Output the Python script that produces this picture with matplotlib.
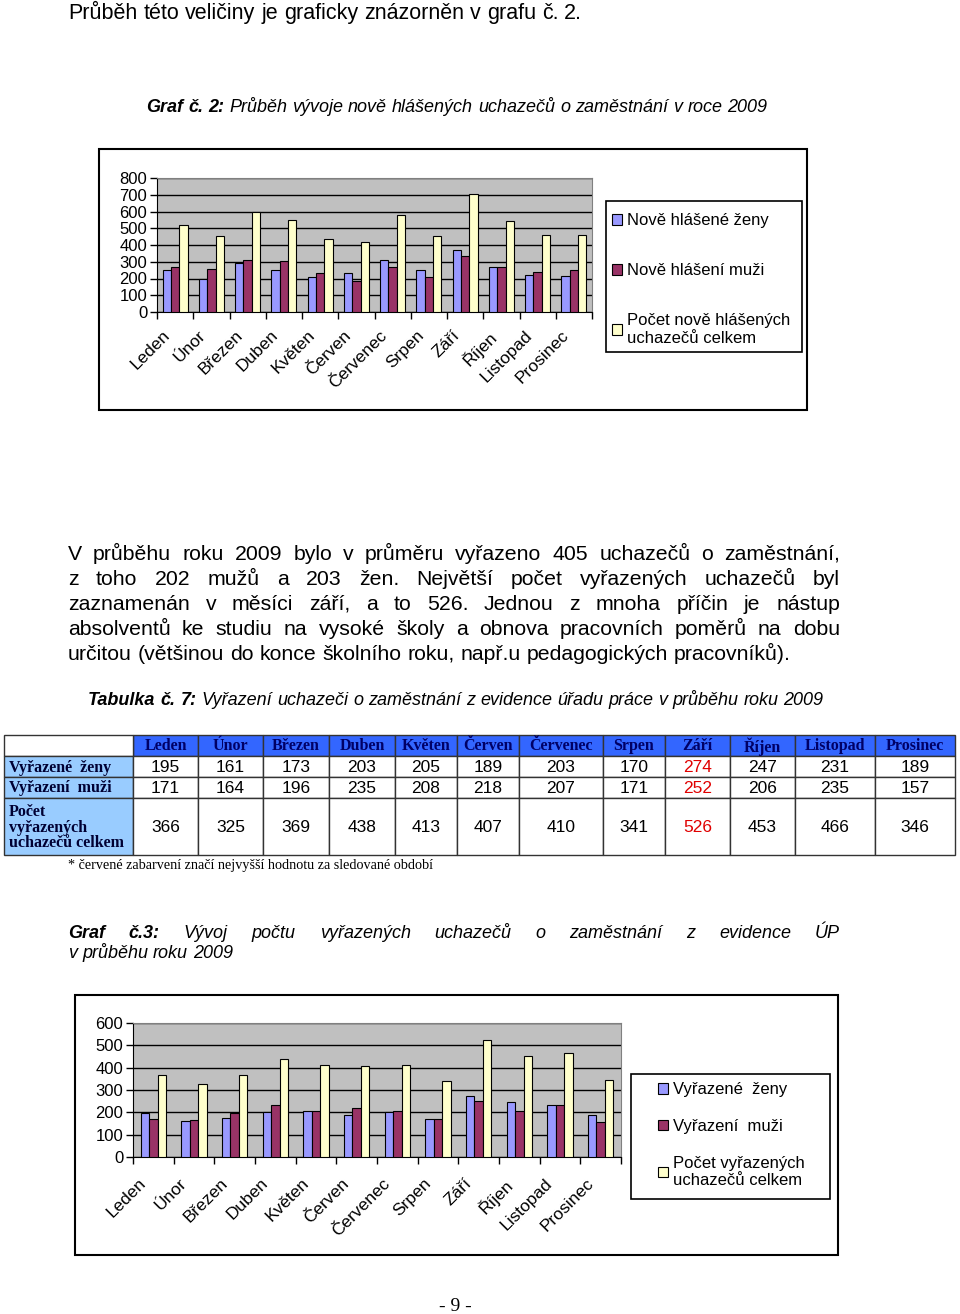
import numpy as np
import matplotlib
matplotlib.use("Agg")
import matplotlib.pyplot as plt
import matplotlib.transforms as mtrans
from matplotlib.patches import Rectangle, Patch

plt.rcParams['font.family'] = ['Liberation Sans', 'DejaVu Sans']

mesice = ["Leden", "Únor", "Březen", "Duben", "Květen", "Červen",
          "Červenec", "Srpen", "Září", "Říjen", "Listopad", "Prosinec"]

# graf c. 2 - hodnoty odhadnute z obrazku
nove_zeny = [248, 198, 291, 248, 208, 230, 311, 248, 368, 271, 222, 216]
nove_muzi = [271, 255, 311, 303, 232, 188, 271, 206, 335, 271, 240, 248]
nove_celkem = [517, 453, 600, 550, 438, 420, 582, 453, 703, 543, 461, 461]

# tabulka c. 7 / graf c. 3
vyr_zeny = [195, 161, 173, 203, 205, 189, 203, 170, 274, 247, 231, 189]
vyr_muzi = [171, 164, 196, 235, 208, 218, 207, 171, 252, 206, 235, 157]
vyr_celkem = [366, 325, 369, 438, 413, 407, 410, 341, 526, 453, 466, 346]

radky_tab = ["Vyřazené  ženy", "Vyřazení  muži", "Počet\nvyřazených\nuchazečů celkem"]

barvy = ['#9999FF', '#993366', '#FFFFCC']
W, H = 960, 1314

fig = plt.figure(figsize=(W / 100, H / 100), dpi=100)
fig.patch.set_facecolor('white')

# podkladova osa v pixelech
ov = fig.add_axes([0, 0, 1, 1], zorder=0)
ov.set_xlim(0, W)
ov.set_ylim(H, 0)
ov.axis('off')

rend = fig.canvas.get_renderer()

sans = ['Liberation Sans', 'DejaVu Sans']
narrow = ['Liberation Sans Narrow', 'Liberation Sans', 'DejaVu Sans']
serif = ['Liberation Serif', 'DejaVu Serif']


def radek(slova, x0, y, x1=None, size=14):
    # slova: seznam (text, vlastnosti); x1 -> zarovnani do bloku
    ts = []
    for s, p in slova:
        t = ov.text(0, y, s, va='baseline', fontsize=size, **p)
        ts.append(t)
    w = [t.get_window_extent(rend).width for t in ts]
    if x1 is None or len(ts) < 2:
        mezera = size * 0.278 * 100 / 72
    else:
        mezera = (x1 - x0 - sum(w)) / (len(ts) - 1)
    x = x0
    for t, wi in zip(ts, w):
        t.set_x(x)
        x += wi + mezera


def prosty(text, x0, y, x1=None, size=14, **p):
    radek([(s, p) for s in text.split()], x0, y, x1, size)


prosty("Průběh této veličiny je graficky znázorněn v grafu č. 2.", 68, 19,
       size=15.5, family=sans)

bi = dict(family=narrow, style='italic', weight='bold')
it = dict(family=narrow, style='italic')
radek([("Graf", bi), ("č.", bi), ("2:", bi)] +
      [(s, it) for s in "Průběh vývoje nově hlášených uchazečů o zaměstnání v roce 2009".split()],
      146, 112, size=13)


def ramecek(x0, y0, x1, y1, lw=1.5):
    ov.add_patch(Rectangle((x0, y0), x1 - x0, y1 - y0, fill=False,
                           edgecolor='black', linewidth=lw))


def graf(px, serie, popisky, ymax, sirka, leg_box, leg_sp, posun, leg_pad):
    l, t, r, b = px
    ax = fig.add_axes([l / W, 1 - b / H, (r - l) / W, (b - t) / H], zorder=2)
    x = np.arange(len(mesice))
    for i, (vals, c) in enumerate(zip(serie, barvy)):
        ax.bar(x + (i - 1) * sirka, vals, sirka, color=c, edgecolor='black',
               linewidth=0.8, zorder=3)
    ax.set_xlim(-0.5, len(mesice) - 0.5)
    ax.set_ylim(0, ymax)
    ax.set_facecolor('#C0C0C0')
    ax.set_yticks(np.arange(0, ymax + 1, 100))
    ax.yaxis.grid(True, color='black', linewidth=1, zorder=1)
    ax.set_axisbelow(True)
    ax.set_xticks(x)
    ax.set_xticklabels(mesice, rotation=45, ha='right', va='top',
                       rotation_mode='anchor', fontsize=12.5)
    ax.tick_params(axis='x', which='major', length=0, pad=9)
    off = mtrans.ScaledTranslation(posun[0] / 100, -posun[1] / 100, fig.dpi_scale_trans)
    for lab in ax.get_xticklabels():
        lab.set_transform(lab.get_transform() + off)
    ax.set_xticks(np.arange(-0.5, len(mesice)), minor=True)
    ax.tick_params(axis='x', which='minor', length=5, width=1)
    ax.tick_params(axis='y', length=5, width=1, labelsize=12, pad=2)
    for s in ['top', 'right']:
        ax.spines[s].set_color('#808080')
    for s in ['left', 'bottom']:
        ax.spines[s].set_color('black')

    # legenda
    lx0, ly0, lx1, ly1 = leg_box
    ramecek(lx0, ly0, lx1, ly1, lw=1.2)
    h = [Patch(facecolor=c, edgecolor='black', linewidth=0.8) for c in barvy]
    ax.legend(h, popisky, loc='upper left',
              bbox_to_anchor=((lx0 + leg_pad[0]) / W, 1 - (ly0 + leg_pad[1]) / H),
              bbox_transform=fig.transFigure, frameon=False, fontsize=12,
              handlelength=0.6, handleheight=0.6, handletextpad=0.3,
              labelspacing=leg_sp, borderpad=0.2, borderaxespad=0)
    return ax


ramecek(99, 149, 807, 410)
graf((157, 178, 592, 312), [nove_zeny, nove_muzi, nove_celkem],
     ["Nově hlášené ženy", "Nově hlášení muži", "Počet nově hlášených\nuchazečů celkem"],
     800, 0.23, (606, 201, 802, 352), 2.1, (-13, 3), (3, 9))

odst = [
    "V průběhu roku 2009 bylo v průměru vyřazeno 405 uchazečů o zaměstnání,",
    "z toho 202 mužů a 203 žen. Největší počet vyřazených uchazečů byl",
    "zaznamenán v měsíci září, a to 526. Jednou z mnoha příčin je nástup",
    "absolventů ke studiu na vysoké školy a obnova pracovních poměrů na dobu",
    "určitou (většinou do konce školního roku, např.u pedagogických pracovníků).",
]
for i, s in enumerate(odst):
    prosty(s, 68, 560 + 25 * i, 840 if i < len(odst) - 1 else None,
           size=15.3, family=sans)

radek([("Tabulka", bi), ("č.", bi), ("7:", bi)] +
      [(s, it) for s in "Vyřazení uchazeči o zaměstnání z evidence úřadu práce v průběhu roku 2009".split()],
      88, 705, size=13)

# tabulka
sl = [4, 133, 198, 263, 329, 395, 457, 519, 603, 665, 730, 795, 875, 955]
rd = [735, 756, 777, 798, 855]
hodnoty = [vyr_zeny, vyr_muzi, vyr_celkem]
for j in range(len(mesice)):
    x0, x1 = sl[j + 1], sl[j + 2]
    ov.add_patch(Rectangle((x0, rd[0]), x1 - x0, rd[1] - rd[0],
                           facecolor='#3366FF', edgecolor='#333333', linewidth=1))
    ov.text((x0 + x1) / 2, (rd[0] + rd[1]) / 2 + 1, mesice[j], ha='center', va='center',
            family=serif, weight='bold', fontsize=11.5, color='#000066')
ov.add_patch(Rectangle((sl[0], rd[0]), sl[1] - sl[0], rd[1] - rd[0],
                       facecolor='white', edgecolor='#333333', linewidth=1))
for i, (nazev, vals) in enumerate(zip(radky_tab, hodnoty)):
    y0, y1 = rd[i + 1], rd[i + 2]
    ov.add_patch(Rectangle((sl[0], y0), sl[1] - sl[0], y1 - y0,
                           facecolor='#99CCFF', edgecolor='#333333', linewidth=1))
    ov.text(sl[0] + 5, (y0 + y1) / 2 + 1, nazev, ha='left', va='center',
            family=serif, weight='bold', fontsize=11.5, color='#000033',
            linespacing=0.95)
    mx = int(np.argmax(vals))
    for j, v in enumerate(vals):
        x0, x1 = sl[j + 1], sl[j + 2]
        ov.add_patch(Rectangle((x0, y0), x1 - x0, y1 - y0,
                               facecolor='white', edgecolor='#333333', linewidth=1))
        ov.text((x0 + x1) / 2, (y0 + y1) / 2 + 1, str(v), ha='center', va='center',
                family=sans, fontsize=12.5, color='#E00000' if j == mx else 'black')

ov.text(68, 869, "* červené zabarvení značí nejvyšší hodnotu za sledované období",
        family=serif, fontsize=10.2, va='baseline')

radek([("Graf", bi), ("č.3:", bi)] +
      [(s, it) for s in "Vývoj počtu vyřazených uchazečů o zaměstnání z evidence ÚP".split()],
      68, 938, 840, size=13)
prosty("v průběhu roku 2009", 68, 958, size=13, **it)

ramecek(75, 995, 838, 1255)
graf((133, 1023, 621, 1157), [vyr_zeny, vyr_muzi, vyr_celkem],
     ["Vyřazené  ženy", "Vyřazení  muži", "Počet vyřazených\nuchazečů celkem"],
     600, 0.21, (631, 1074, 830, 1199), 1.3, (-15, 6), (24, 5))

ov.text(455, 1311, "- 9 -", family=serif, fontsize=14, ha='center', va='baseline')

fig.savefig("out.png", dpi=100)
